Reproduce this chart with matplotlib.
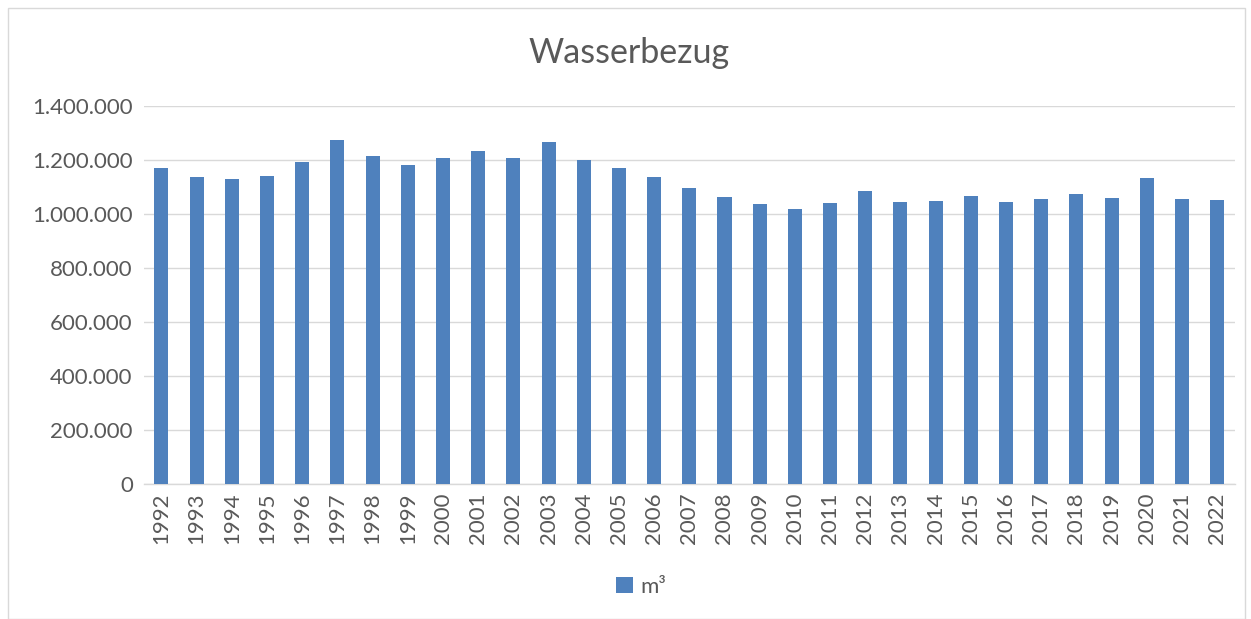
import matplotlib
matplotlib.use("Agg")
import matplotlib.pyplot as plt
from matplotlib.ticker import FuncFormatter
from matplotlib.patches import Rectangle

years = [str(y) for y in range(1992, 2023)]
values = [1170000, 1138000, 1131000, 1140000, 1194000, 1275000, 1214000, 1180000,
          1206000, 1232000, 1207000, 1266000, 1200000, 1170000, 1138000, 1096000,
          1062000, 1038000, 1017000, 1040000, 1084000, 1046000, 1048000, 1068000,
          1043000, 1054000, 1073000, 1058000, 1132000, 1056000, 1051000]
series_name = "m³"
title = "Wasserbezug"
yticks = [0, 200000, 400000, 600000, 800000, 1000000, 1200000, 1400000]

plt.rcParams['font.family'] = ['Lato', 'DejaVu Sans']
text_color = '#595959'

fig = plt.figure(figsize=(12.51, 6.19), dpi=100)
ax = fig.add_axes([0.115, 0.2181, 0.872, 0.6107])

x = list(range(len(years)))
ax.bar(x, values, width=0.4, color='#4f81bd', label=series_name, zorder=3)

ax.set_xlim(-0.5, len(years) - 0.5)
ax.set_ylim(0, 1400000)
ax.set_yticks(yticks)
ax.yaxis.set_major_formatter(FuncFormatter(lambda v, p: f"{int(v):,}".replace(",", ".")))
ax.set_xticks(x)
ax.set_xticklabels(years, rotation=90)
ax.tick_params(axis='y', length=0, labelsize=16, colors=text_color, pad=8)
ax.tick_params(axis='x', length=0, labelsize=16, colors=text_color, pad=6)
ax.grid(axis='y', color='#d9d9d9', linewidth=1, zorder=0)
for s in ['top', 'right', 'left']:
    ax.spines[s].set_visible(False)
ax.spines['bottom'].set_color('#d9d9d9')
ax.spines['bottom'].set_linewidth(1)

fig.text(0.5 + 4 / 1251, 1 - 53 / 619, title, ha='center', va='center', fontsize=24.5, color=text_color)

leg = fig.legend(loc='center', bbox_to_anchor=(0.5 + 16 / 1251, 1 - 587 / 619), frameon=False,
                 fontsize=16, handlelength=0.75, handleheight=0.75, handletextpad=0.35)
for t in leg.get_texts():
    t.set_color(text_color)

fig.patches.append(Rectangle((8 / 1251, 0), 1 - 14 / 1251, 1 - 8 / 619, transform=fig.transFigure,
                             fill=False, edgecolor='#d9d9d9', linewidth=1))

fig.savefig("out.png", dpi=100)
